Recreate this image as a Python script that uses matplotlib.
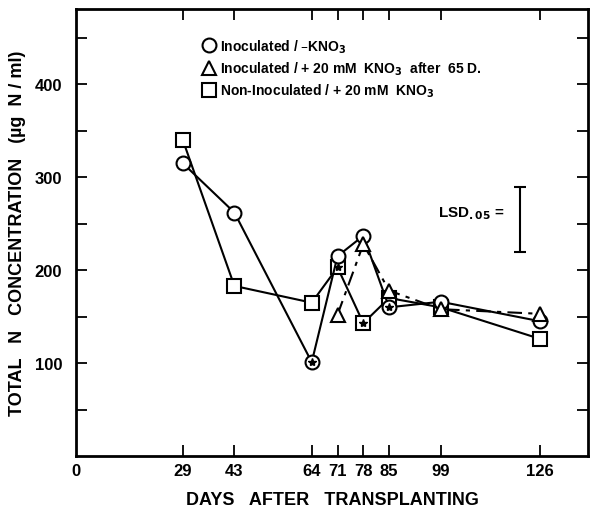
import matplotlib
matplotlib.use('agg')
import matplotlib.pyplot as plt
from matplotlib.lines import Line2D

# jours de prélèvement
days = [29, 43, 64, 71, 78, 85, 99, 126]
inoc_no_kno3 = [315, 262, 101, 215, 237, 160, 166, 145]
non_inoc_kno3 = [340, 183, 165, 203, 143, 170, 160, 126]
days_kno3 = [71, 78, 85, 99, 126]
inoc_kno3 = [152, 228, 178, 158, 153]

# points marqués d'une astérisque
star_circle_days = [64, 85]
star_circle_vals = [101, 160]
star_square_days = [71, 78]
star_square_vals = [203, 143]

lsd_low, lsd_high, lsd_day = 219, 290, 120.5

plt.rcParams['font.family'] = ['Liberation Sans', 'DejaVu Sans']
plt.rcParams['font.weight'] = 'bold'
plt.rcParams['axes.labelweight'] = 'bold'

fig = plt.figure(figsize=(5.9, 5.1), dpi=100)
ax = fig.add_axes([0.1288, 0.1039, 0.8678, 0.8765])

mk = dict(markersize=10, markerfacecolor='white', markeredgecolor='black',
          markeredgewidth=1.5, color='black', linewidth=1.5)

ax.plot(days, non_inoc_kno3, marker='s', linestyle='-', **mk)
ax.plot(days, inoc_no_kno3, marker='o', linestyle='-', **mk)
ax.plot(days_kno3, inoc_kno3, marker='^', linestyle=(0, (7, 3, 2, 3)), **mk)

ax.plot(star_circle_days, star_circle_vals, linestyle='none', marker='*',
        color='black', markersize=6)
ax.plot(star_square_days, star_square_vals, linestyle='none', marker='*',
        color='black', markersize=6)

# barre LSD
ax.errorbar([lsd_day], [(lsd_low + lsd_high) / 2], yerr=[(lsd_high - lsd_low) / 2],
            color='black', capsize=4, elinewidth=1.5, capthick=1.5)
ax.text(lsd_day - 4, 262, r'LSD$_{.05}$ =', ha='right', va='center', fontsize=11)

ax.set_xlim(0, 139)
ax.set_ylim(0, 481)
ax.set_xticks([0] + days)
ax.set_xticklabels(['0'] + [str(d) for d in days])
ax.set_yticks([50, 100, 150, 200, 250, 300, 350, 400, 450])
ax.set_yticklabels(['', '100', '', '200', '', '300', '', '400', ''])
ax.tick_params(direction='in', length=8, width=1.3, top=True, right=True,
               labelsize=12)
ax.tick_params(axis='x', pad=5)
ax.tick_params(axis='y', pad=10)
ax.xaxis.get_major_ticks()[0].tick1line.set_visible(False)
ax.xaxis.get_major_ticks()[0].tick2line.set_visible(False)
for s in ax.spines.values():
    s.set_linewidth(2)

ax.set_xlabel('DAYS   AFTER   TRANSPLANTING', fontsize=13)
ax.set_ylabel('TOTAL   N   CONCENTRATION   (\u00b5g  N / ml)', fontsize=13)
ax.xaxis.set_label_coords(0.5, -0.078)
ax.yaxis.set_label_coords(-0.098, 0.5)

handles = [
    Line2D([], [], marker='o', linestyle='none', markersize=10, markerfacecolor='white',
           markeredgecolor='black', markeredgewidth=1.5),
    Line2D([], [], marker='^', linestyle='none', markersize=10, markerfacecolor='white',
           markeredgecolor='black', markeredgewidth=1.5),
    Line2D([], [], marker='s', linestyle='none', markersize=10, markerfacecolor='white',
           markeredgecolor='black', markeredgewidth=1.5),
]
labels = ['Inoculated / \u2013KNO$_3$',
          'Inoculated / + 20 mM  KNO$_3$  after  65 D.',
          'Non-Inoculated / + 20 mM  KNO$_3$']
ax.legend(handles, labels, loc='upper left', bbox_to_anchor=(0.225, 0.965),
          frameon=False, handlelength=0.8, handletextpad=0.4, labelspacing=0.35,
          prop={'size': 10, 'weight': 'bold'})

fig.savefig('out.png', dpi=100)
